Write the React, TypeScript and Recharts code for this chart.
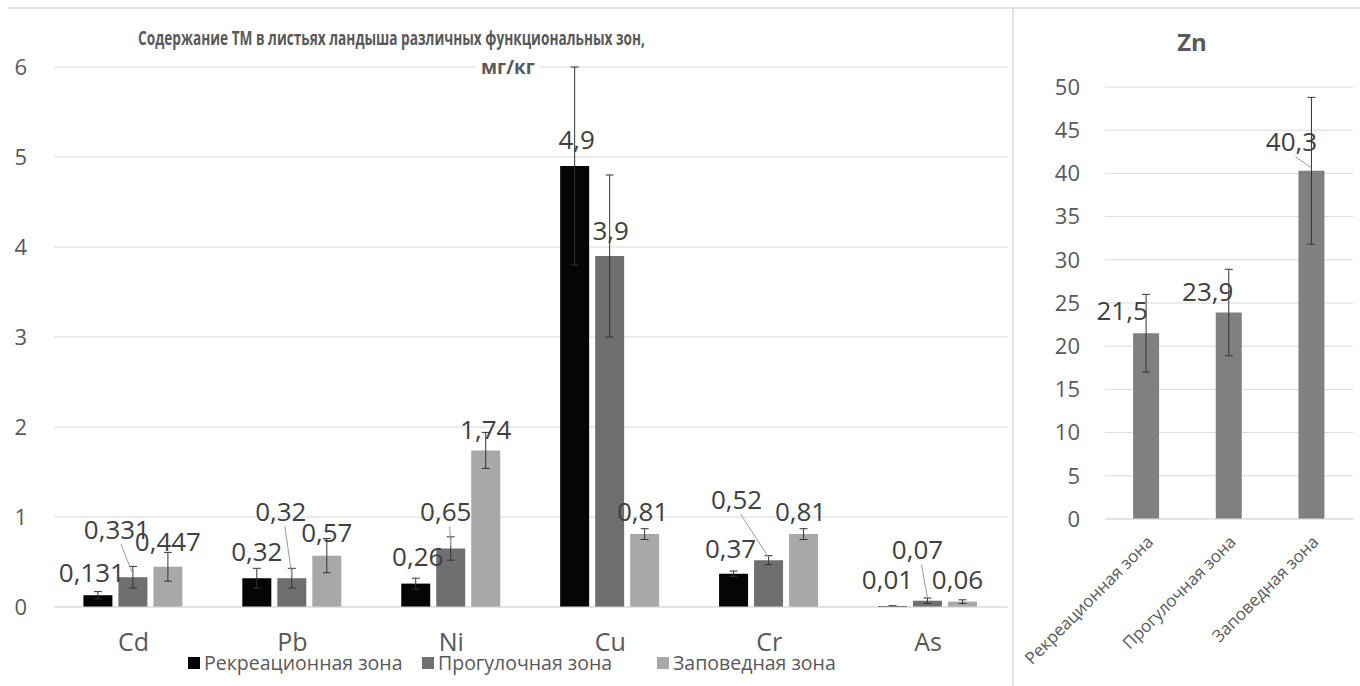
import { BarChart, Bar, XAxis, YAxis, CartesianGrid, ErrorBar, LabelList } from "recharts";

const elements = ["Cd", "Pb", "Ni", "Cu", "Cr", "As"];
const zoneNames = ["Рекреационная зона", "Прогулочная зона", "Заповедная зона"];

const recreational = [0.131, 0.32, 0.26, 4.9, 0.37, 0.01];
const walking = [0.331, 0.32, 0.65, 3.9, 0.52, 0.07];
const reserve = [0.447, 0.57, 1.74, 0.81, 0.81, 0.06];

const recreationalErr = [0.04, 0.11, 0.06, 1.1, 0.03, 0.004];
const walkingErr = [0.12, 0.11, 0.13, 0.9, 0.05, 0.03];
const reserveErr = [0.16, 0.19, 0.2, 0.06, 0.06, 0.02];

const zinc = [21.5, 23.9, 40.3];
const zincErr = [4.5, 5, 8.5];

const leftTicks = [0, 1, 2, 3, 4, 5, 6];
const zincTicks = [0, 5, 10, 15, 20, 25, 30, 35, 40, 45, 50];

// label nudges [dx, dy, leader line]
const recNudge = [[-6, 0, 0], [0, -4, 0], [2, -4, 0], [2, -3, 0], [-3, -2, 0], [-5, -3, 0]];
const walkNudge = [[-16, -25, 1], [-11, -44, 1], [-5, -14, 1], [1, -2, 0], [-32, -38, 1], [-10, -28, 1]];
const resNudge = [[0, -2, 0], [0, 0, 0], [0, 2, 0], [-2, 1, 0], [-3, 1, 0], [-5, 1, 0]];
const zincNudge = [[-24, 0, 0], [-21, 2, 0], [-20, -6, 1]];

const colors = ["#050505", "#6f6f6f", "#a8a8a8"];
const font = "'Open Sans', sans-serif";

const table = elements.map((el, i) => ({
  el,
  rec: recreational[i],
  recErr: recreationalErr[i],
  walk: walking[i],
  walkErr: walkingErr[i],
  res: reserve[i],
  resErr: reserveErr[i],
}));

const zincTable = zoneNames.map((zone, i) => ({ zone, zn: zinc[i], znErr: zincErr[i] }));

const fmt = (v: number) => String(v).replace(".", ",");

const makeLabel = (nudges: number[][]) => (props: any) => {
  const vb = props.viewBox || {};
  const x = props.x ?? vb.x;
  const y = props.y ?? vb.y;
  const width = props.width ?? vb.width;
  const [dx, dy, lead] = nudges[props.index] || [0, 0, 0];
  const bx = x + width / 2;
  const cx = bx + dx;
  const cy = y - 23 + dy;
  return (
    <g>
      {lead ? <line x1={cx + 4} y1={cy + 15} x2={bx} y2={y - 3} stroke="#9a9a9a" strokeWidth={1} /> : null}
      <text x={cx} y={cy} dy="0.36em" textAnchor="middle" fontSize={26} fill="#404040" fontFamily={font}>
        {fmt(props.value)}
      </text>
    </g>
  );
};

const ZoneTick = (props: any) => {
  const { x, y, payload } = props;
  const ax = x + 8;
  const ay = y + 24;
  return (
    <text x={ax} y={ay} transform={`rotate(-45, ${ax}, ${ay})`} textAnchor="end" fontSize={17} fill="#595959" fontFamily={font}>
      {payload.value}
    </text>
  );
};

export default function App() {
  const legendX = [188, 422, 657];
  return (
    <div style={{ position: "absolute", left: 0, top: 0, width: 1360, height: 686, background: "#fff" }}>
      <div style={{ position: "absolute", left: 0, top: 0 }}>
        <BarChart width={1013} height={686} data={table} margin={{ top: 67, right: 5.5, bottom: 39, left: 0 }}
          barCategoryGap="18.5%" barGap={6}>
          <CartesianGrid vertical={false} stroke="#d9d9d9" />
          <XAxis dataKey="el" height={40} tickSize={0} tickMargin={26} axisLine={{ stroke: "#d9d9d9" }}
            tick={{ fontSize: 25, fill: "#595959", fontFamily: font }} />
          <YAxis width={54} domain={[0, 6]} ticks={leftTicks} tickSize={0} tickMargin={27} axisLine={false}
            tickLine={false} tick={{ fontSize: 22, fill: "#595959", fontFamily: font }} />
          <Bar dataKey="rec" fill={colors[0]} isAnimationActive={false}>
            <ErrorBar dataKey="recErr" width={4} stroke="#333" strokeWidth={1} isAnimationActive={false} />
            <LabelList dataKey="rec" content={makeLabel(recNudge)} />
          </Bar>
          <Bar dataKey="walk" fill={colors[1]} isAnimationActive={false}>
            <ErrorBar dataKey="walkErr" width={4} stroke="#333" strokeWidth={1} isAnimationActive={false} />
            <LabelList dataKey="walk" content={makeLabel(walkNudge)} />
          </Bar>
          <Bar dataKey="res" fill={colors[2]} isAnimationActive={false}>
            <ErrorBar dataKey="resErr" width={4} stroke="#333" strokeWidth={1} isAnimationActive={false} />
            <LabelList dataKey="res" content={makeLabel(resNudge)} />
          </Bar>
        </BarChart>
      </div>
      <div style={{ position: "absolute", left: 1013, top: 0 }}>
        <BarChart width={347} height={686} data={zincTable} margin={{ top: 87, right: 7, bottom: 7, left: 0 }}
          barCategoryGap="34%">
          <CartesianGrid vertical={false} stroke="#d9d9d9" />
          <XAxis dataKey="zone" height={160} tickSize={0} tickMargin={0} axisLine={{ stroke: "#d9d9d9" }}
            interval={0} tick={<ZoneTick />} />
          <YAxis width={92} domain={[0, 50]} ticks={zincTicks} tickSize={0} tickMargin={25} axisLine={false}
            tickLine={false} tick={{ fontSize: 22, fill: "#595959", fontFamily: font }} />
          <Bar dataKey="zn" fill="#808080" isAnimationActive={false}>
            <ErrorBar dataKey="znErr" width={4} stroke="#333" strokeWidth={1} isAnimationActive={false} />
            <LabelList dataKey="zn" content={makeLabel(zincNudge)} />
          </Bar>
        </BarChart>
      </div>
      <svg width={1360} height={686} style={{ position: "absolute", left: 0, top: 0, pointerEvents: "none" }}>
        <line x1={8} y1={8} x2={1360} y2={8} stroke="#d9d9d9" strokeWidth={1.5} />
        <line x1={1013} y1={8} x2={1013} y2={686} stroke="#d9d9d9" strokeWidth={1.5} />
        <text x={138} y={45} fontSize={20} fontWeight="bold" fill="#595959" fontFamily={font}
          textLength={507} lengthAdjust="spacingAndGlyphs">
          Содержание ТМ в листьях ландыша различных функциональных зон,
        </text>
        <rect x={476} y={59} width={64} height={17} fill="#fff" />
        <text x={508} y={74} fontSize={19} fontWeight="bold" fill="#595959" fontFamily={font} textAnchor="middle">
          мг/кг
        </text>
        <text x={1192} y={51} fontSize={24} fontWeight="bold" fill="#595959" fontFamily={font} textAnchor="middle">
          Zn
        </text>
        {zoneNames.map((name, i) => (
          <g key={name}>
            <rect x={legendX[i]} y={657} width={12} height={12} fill={colors[i]} />
            <text x={legendX[i] + 16} y={670} fontSize={19.5} fill="#595959" fontFamily={font}>
              {name}
            </text>
          </g>
        ))}
      </svg>
    </div>
  );
}
